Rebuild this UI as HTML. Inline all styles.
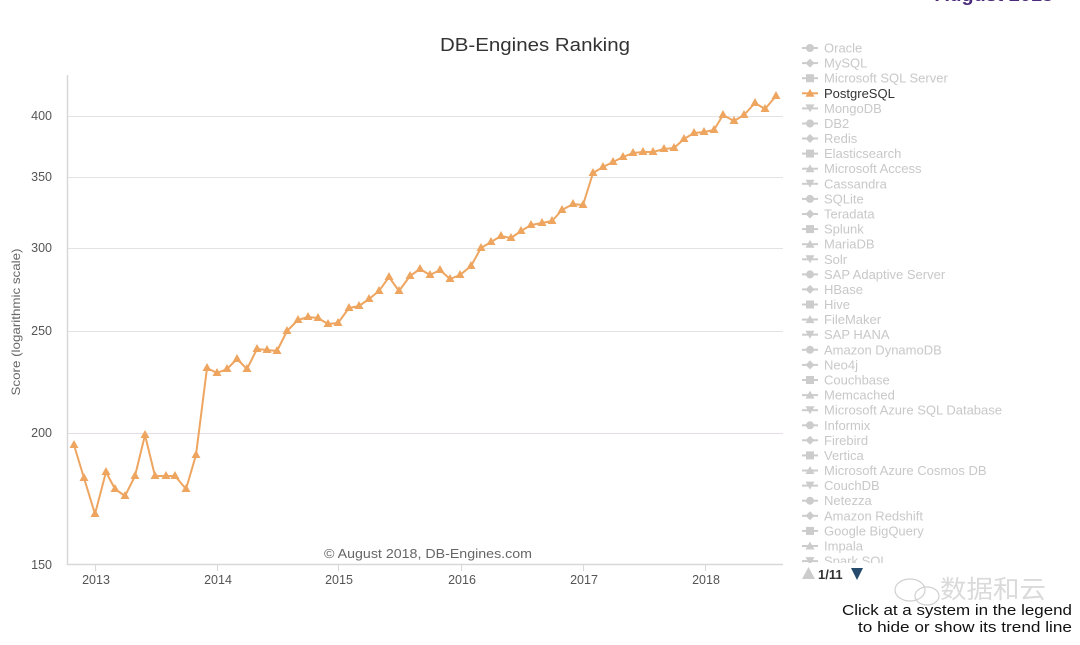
<!DOCTYPE html>
<html><head><meta charset="utf-8"><style>
html,body{margin:0;padding:0;background:#fff;}
svg{display:block;}
text{font-family:"Liberation Sans","Noto Sans CJK SC",sans-serif;}
</style></head><body>
<svg width="1080" height="645" viewBox="0 0 1080 645" xmlns="http://www.w3.org/2000/svg">
<rect width="1080" height="645" fill="#fff"/>
<!-- top-right cut title -->
<text x="994" y="1" font-size="18" font-weight="bold" fill="#4b2a7b" text-anchor="middle" textLength="118" lengthAdjust="spacingAndGlyphs">August 2018</text>
<!-- title -->
<text x="535" y="51" font-size="18" fill="#333" text-anchor="middle" textLength="190" lengthAdjust="spacingAndGlyphs">DB-Engines Ranking</text>
<!-- gridlines -->
<g stroke="#e3e3e3" stroke-width="1">
<line x1="67" y1="116.5" x2="783" y2="116.5"/>
<line x1="67" y1="177.5" x2="783" y2="177.5"/>
<line x1="67" y1="248.5" x2="783" y2="248.5"/>
<line x1="67" y1="331.5" x2="783" y2="331.5"/>
<line x1="67" y1="433.5" x2="783" y2="433.5" stroke="#e6dde6"/>
</g>
<!-- axes -->
<line x1="67.5" y1="75" x2="67.5" y2="565" stroke="#d8d8d8" stroke-width="1.5"/>
<line x1="67" y1="564.5" x2="783" y2="564.5" stroke="#d8d8d8" stroke-width="1.5"/>
<g stroke="#d8d8d8" stroke-width="1">
<line x1="95.5" y1="564" x2="95.5" y2="571"/>
<line x1="217.5" y1="564" x2="217.5" y2="571"/>
<line x1="338.5" y1="564" x2="338.5" y2="571"/>
<line x1="461.5" y1="564" x2="461.5" y2="571"/>
<line x1="583.5" y1="564" x2="583.5" y2="571"/>
<line x1="705.5" y1="564" x2="705.5" y2="571"/>
</g>
<!-- y labels -->
<g font-size="12.5" fill="#555" text-anchor="end">
<text x="52" y="120">400</text>
<text x="52" y="181">350</text>
<text x="52" y="252">300</text>
<text x="52" y="335">250</text>
<text x="52" y="437">200</text>
<text x="52" y="569">150</text>
</g>
<text transform="translate(20,322) rotate(-90)" font-size="12" fill="#666" text-anchor="middle" textLength="147" lengthAdjust="spacingAndGlyphs">Score (logarithmic scale)</text>
<!-- x labels -->
<g font-size="12.5" fill="#555" text-anchor="middle">
<text x="96" y="584">2013</text>
<text x="218" y="584">2014</text>
<text x="339" y="584">2015</text>
<text x="462" y="584">2016</text>
<text x="584" y="584">2017</text>
<text x="706" y="584">2018</text>
</g>
<text x="324" y="558" font-size="12.5" fill="#666" textLength="208" lengthAdjust="spacingAndGlyphs">© August 2018, DB-Engines.com</text>
<!-- series -->
<polyline fill="none" stroke="#eea560" stroke-width="2" stroke-linejoin="round" points="74,445 84,478 95,514 106,472 115,489 125,496 135,476 145,435 155,476 166,476 175,476 186,489 196,455 207,368 217,373 227,369 237,359 247,369 257,349 267,350 277,351 287,331 298,320 308,317 318,318 328,324 338,323 349,308 359,306 369,299 379,291 389,277 399,291 410,276 420,269 430,275 440,270 450,279 460,275 471,266 481,248 491,242 501,236 511,238 521,231 531,225 542,223 552,221 562,210 573,204 583,205 593,173 603,167 613,162 623,157 633,153 643,152 653,152 664,149 674,148 684,139 694,133 704,132 714,130 723,115 734,121 744,115 755,103 765,109 776,96"/>
<g fill="#eea560">
<path d="M74,440l-4.5,8h9z M84,473l-4.5,8h9z M95,509l-4.5,8h9z M106,467l-4.5,8h9z M115,484l-4.5,8h9z M125,491l-4.5,8h9z M135,471l-4.5,8h9z M145,430l-4.5,8h9z M155,471l-4.5,8h9z M166,471l-4.5,8h9z M175,471l-4.5,8h9z M186,484l-4.5,8h9z M196,450l-4.5,8h9z M207,363l-4.5,8h9z M217,368l-4.5,8h9z M227,364l-4.5,8h9z M237,354l-4.5,8h9z M247,364l-4.5,8h9z M257,344l-4.5,8h9z M267,345l-4.5,8h9z M277,346l-4.5,8h9z M287,326l-4.5,8h9z M298,315l-4.5,8h9z M308,312l-4.5,8h9z M318,313l-4.5,8h9z M328,319l-4.5,8h9z M338,318l-4.5,8h9z M349,303l-4.5,8h9z M359,301l-4.5,8h9z M369,294l-4.5,8h9z M379,286l-4.5,8h9z M389,272l-4.5,8h9z M399,286l-4.5,8h9z M410,271l-4.5,8h9z M420,264l-4.5,8h9z M430,270l-4.5,8h9z M440,265l-4.5,8h9z M450,274l-4.5,8h9z M460,270l-4.5,8h9z M471,261l-4.5,8h9z M481,243l-4.5,8h9z M491,237l-4.5,8h9z M501,231l-4.5,8h9z M511,233l-4.5,8h9z M521,226l-4.5,8h9z M531,220l-4.5,8h9z M542,218l-4.5,8h9z M552,216l-4.5,8h9z M562,205l-4.5,8h9z M573,199l-4.5,8h9z M583,200l-4.5,8h9z M593,168l-4.5,8h9z M603,162l-4.5,8h9z M613,157l-4.5,8h9z M623,152l-4.5,8h9z M633,148l-4.5,8h9z M643,147l-4.5,8h9z M653,147l-4.5,8h9z M664,144l-4.5,8h9z M674,143l-4.5,8h9z M684,134l-4.5,8h9z M694,128l-4.5,8h9z M704,127l-4.5,8h9z M714,125l-4.5,8h9z M723,110l-4.5,8h9z M734,116l-4.5,8h9z M744,110l-4.5,8h9z M755,98l-4.5,8h9z M765,104l-4.5,8h9z M776,91l-4.5,8h9z"/>
</g>
<!-- legend -->
<defs><clipPath id="lc"><rect x="795" y="38" width="285" height="525"/></clipPath></defs>
<g clip-path="url(#lc)" font-size="13" fill="#c8c8c8">
<g stroke="#cccccc" stroke-width="2">
<line x1="802" y1="48" x2="818" y2="48"/><line x1="802" y1="63.1" x2="818" y2="63.1"/><line x1="802" y1="78.2" x2="818" y2="78.2"/>
<line x1="802" y1="93.3" x2="818" y2="93.3" stroke="#eea560"/>
<line x1="802" y1="108.4" x2="818" y2="108.4"/><line x1="802" y1="123.5" x2="818" y2="123.5"/><line x1="802" y1="138.5" x2="818" y2="138.5"/><line x1="802" y1="153.6" x2="818" y2="153.6"/><line x1="802" y1="168.7" x2="818" y2="168.7"/><line x1="802" y1="183.8" x2="818" y2="183.8"/><line x1="802" y1="198.9" x2="818" y2="198.9"/><line x1="802" y1="214" x2="818" y2="214"/><line x1="802" y1="229.1" x2="818" y2="229.1"/><line x1="802" y1="244.2" x2="818" y2="244.2"/><line x1="802" y1="259.3" x2="818" y2="259.3"/><line x1="802" y1="274.4" x2="818" y2="274.4"/><line x1="802" y1="289.4" x2="818" y2="289.4"/><line x1="802" y1="304.5" x2="818" y2="304.5"/><line x1="802" y1="319.6" x2="818" y2="319.6"/><line x1="802" y1="334.7" x2="818" y2="334.7"/><line x1="802" y1="349.8" x2="818" y2="349.8"/><line x1="802" y1="364.9" x2="818" y2="364.9"/><line x1="802" y1="380" x2="818" y2="380"/><line x1="802" y1="395.1" x2="818" y2="395.1"/><line x1="802" y1="410.2" x2="818" y2="410.2"/><line x1="802" y1="425.3" x2="818" y2="425.3"/><line x1="802" y1="440.3" x2="818" y2="440.3"/><line x1="802" y1="455.4" x2="818" y2="455.4"/><line x1="802" y1="470.5" x2="818" y2="470.5"/><line x1="802" y1="485.6" x2="818" y2="485.6"/><line x1="802" y1="500.7" x2="818" y2="500.7"/><line x1="802" y1="515.8" x2="818" y2="515.8"/><line x1="802" y1="530.9" x2="818" y2="530.9"/><line x1="802" y1="546" x2="818" y2="546"/><line x1="802" y1="561.1" x2="818" y2="561.1"/>
</g>
<g fill="#cccccc">
<circle cx="810" cy="48" r="4"/>
<path d="M810,58.6l4.5,4.5l-4.5,4.5l-4.5,-4.5z"/>
<rect x="806" y="74.2" width="8" height="8"/>
<path d="M810,88.8l-4.5,8h9z" fill="#eea560"/>
<path d="M810,112.4l-4.5,-8h9z"/>
<circle cx="810" cy="123.5" r="4"/>
<path d="M810,134l4.5,4.5l-4.5,4.5l-4.5,-4.5z"/>
<rect x="806" y="149.6" width="8" height="8"/>
<path d="M810,164.2l-4.5,8h9z"/>
<path d="M810,187.8l-4.5,-8h9z"/>
<circle cx="810" cy="198.9" r="4"/>
<path d="M810,209.5l4.5,4.5l-4.5,4.5l-4.5,-4.5z"/>
<rect x="806" y="225.1" width="8" height="8"/>
<path d="M810,239.7l-4.5,8h9z"/>
<path d="M810,263.3l-4.5,-8h9z"/>
<circle cx="810" cy="274.4" r="4"/>
<path d="M810,284.9l4.5,4.5l-4.5,4.5l-4.5,-4.5z"/>
<rect x="806" y="300.5" width="8" height="8"/>
<path d="M810,315.1l-4.5,8h9z"/>
<path d="M810,338.7l-4.5,-8h9z"/>
<circle cx="810" cy="349.8" r="4"/>
<path d="M810,360.4l4.5,4.5l-4.5,4.5l-4.5,-4.5z"/>
<rect x="806" y="376" width="8" height="8"/>
<path d="M810,390.6l-4.5,8h9z"/>
<path d="M810,414.2l-4.5,-8h9z"/>
<circle cx="810" cy="425.3" r="4"/>
<path d="M810,435.8l4.5,4.5l-4.5,4.5l-4.5,-4.5z"/>
<rect x="806" y="451.4" width="8" height="8"/>
<path d="M810,466l-4.5,8h9z"/>
<path d="M810,489.6l-4.5,-8h9z"/>
<circle cx="810" cy="500.7" r="4"/>
<path d="M810,511.3l4.5,4.5l-4.5,4.5l-4.5,-4.5z"/>
<rect x="806" y="526.9" width="8" height="8"/>
<path d="M810,541.5l-4.5,8h9z"/>
<path d="M810,565.1l-4.5,-8h9z"/>
</g>
<text x="824" y="52.5">Oracle</text>
<text x="824" y="67.6">MySQL</text>
<text x="824" y="82.7">Microsoft SQL Server</text>
<text x="824" y="97.8" fill="#333">PostgreSQL</text>
<text x="824" y="112.9">MongoDB</text>
<text x="824" y="128">DB2</text>
<text x="824" y="143">Redis</text>
<text x="824" y="158.1">Elasticsearch</text>
<text x="824" y="173.2">Microsoft Access</text>
<text x="824" y="188.3">Cassandra</text>
<text x="824" y="203.4">SQLite</text>
<text x="824" y="218.5">Teradata</text>
<text x="824" y="233.6">Splunk</text>
<text x="824" y="248.7">MariaDB</text>
<text x="824" y="263.8">Solr</text>
<text x="824" y="278.9">SAP Adaptive Server</text>
<text x="824" y="293.9">HBase</text>
<text x="824" y="309">Hive</text>
<text x="824" y="324.1">FileMaker</text>
<text x="824" y="339.2">SAP HANA</text>
<text x="824" y="354.3">Amazon DynamoDB</text>
<text x="824" y="369.4">Neo4j</text>
<text x="824" y="384.5">Couchbase</text>
<text x="824" y="399.6">Memcached</text>
<text x="824" y="414.7">Microsoft Azure SQL Database</text>
<text x="824" y="429.8">Informix</text>
<text x="824" y="444.8">Firebird</text>
<text x="824" y="459.9">Vertica</text>
<text x="824" y="475">Microsoft Azure Cosmos DB</text>
<text x="824" y="490.1">CouchDB</text>
<text x="824" y="505.2">Netezza</text>
<text x="824" y="520.3">Amazon Redshift</text>
<text x="824" y="535.4">Google BigQuery</text>
<text x="824" y="550.5">Impala</text>
<text x="824" y="565.6">Spark SQL</text>
</g>
<!-- pagination -->
<path d="M808.5,567l-6.5,12h13z" fill="#cccccc"/>
<text x="818" y="579" font-size="13" font-weight="bold" fill="#333">1/11</text>
<path d="M857,580l-6,-12h12z" fill="#274b6d"/>
<!-- watermark -->
<g fill="none" stroke="#d0d0d0" stroke-width="1.2">
<ellipse cx="910" cy="590" rx="15" ry="11"/>
<ellipse cx="927" cy="596" rx="12" ry="9"/>
</g>
<text x="940" y="598" font-size="25" fill="#dadada" textLength="106" lengthAdjust="spacingAndGlyphs">数据和云</text>
<!-- hint -->
<g font-size="15" fill="#111" text-anchor="end">
<text x="1072" y="615" textLength="230" lengthAdjust="spacingAndGlyphs">Click at a system in the legend</text>
<text x="1072" y="632" textLength="214" lengthAdjust="spacingAndGlyphs">to hide or show its trend line</text>
</g>
</svg>
</body></html>
